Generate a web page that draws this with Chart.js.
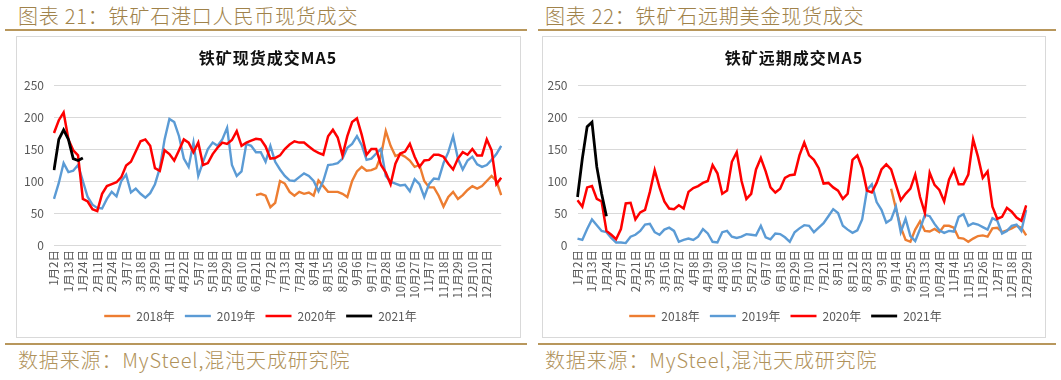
<!DOCTYPE html>
<html><head><meta charset="utf-8">
<script src="https://cdn.jsdelivr.net/npm/chart.js@4"></script>
<style>
body{margin:0;width:1061px;height:380px;background:#fff;position:relative;overflow:hidden;font-family:"Noto Sans CJK SC",sans-serif;}
.hdr{position:absolute;top:4px;font-size:20px;line-height:24px;font-weight:300;color:#a0824a;letter-spacing:0.8px;white-space:nowrap;}
.rule{position:absolute;height:0;border-top:2px solid #b8975c;}
.box{position:absolute;top:36px;height:302px;border:1px solid #d9d9d9;box-sizing:border-box;}
.cw{position:absolute;top:37px;height:299px;}
.ctitle{position:absolute;top:46px;font-size:16px;line-height:22px;font-weight:bold;color:#111;white-space:nowrap;transform:translateX(-50%);letter-spacing:1px;}
.src{position:absolute;top:347px;font-size:20px;line-height:26px;font-weight:300;color:#b0925a;letter-spacing:0.85px;white-space:nowrap;}
</style></head>
<body>
<div class="hdr" style="left:18px">图表 21：铁矿石港口人民币现货成交</div>
<div class="hdr" style="left:545px">图表 22：铁矿石远期美金现货成交</div>
<div class="rule" style="left:5px;width:522px;top:29px"></div>
<div class="rule" style="left:538px;width:518px;top:29px"></div>
<div class="box" style="left:16px;width:505px"></div>
<div class="box" style="left:542px;width:504px"></div>
<div class="cw" style="left:17px;width:503px"><canvas id="c1"></canvas></div>
<div class="cw" style="left:543px;width:502px"><canvas id="c2"></canvas></div>
<div class="ctitle" style="left:268px">铁矿现货成交MA5</div>
<div class="ctitle" style="left:794px">铁矿远期成交MA5</div>
<div class="rule" style="left:5px;width:522px;top:343px"></div>
<div class="rule" style="left:538px;width:518px;top:343px"></div>
<div class="src" style="left:18px">数据来源：MySteel,混沌天成研究院</div>
<div class="src" style="left:545px">数据来源：MySteel,混沌天成研究院</div>
<script>
// ---- Left chart: 铁矿现货成交MA5 ----
const L_TICKS = ['1月2日','1月13日','1月24日','2月11日','2月24日','3月7日','3月18日','3月29日','4月11日','4月22日','5月7日','5月18日','5月29日','6月10日','6月21日','7月2日','7月13日','7月24日','8月4日','8月15日','8月26日','9月6日','9月17日','9月28日','10月16日','10月27日','11月7日','11月18日','11月29日','12月10日','12月21日'];
const L_COUNT = 94;
const L_2020 = [175,195,207,165,148,140,72,68,56,53,
 80,92,95,98,106,124,130,146,162,165,
 155,120,116,148,142,132,148,165,160,145,
 160,125,128,142,152,160,158,164,178,155,
 160,163,166,165,154,135,136,140,150,157,
 162,160,160,154,148,144,141,170,180,168,
 140,170,192,198,172,141,150,150,125,113,
 95,127,143,146,158,138,122,132,133,141,
 141,138,127,118,135,145,141,150,140,140,
 165,148,95,105];
const L_2019 = [72,97,128,114,116,125,100,75,63,58,
 57,72,83,76,100,110,82,88,80,74,
 81,95,120,165,197,192,170,135,122,160,
 108,130,150,160,155,165,183,125,108,115,
 158,155,145,145,130,155,130,118,108,101,
 100,106,112,108,100,84,100,125,126,128,
 135,152,158,170,156,133,135,143,150,108,
 99,96,93,94,84,103,95,75,95,104,
 103,128,145,170,135,118,132,138,126,122,
 125,133,142,155];
const L_2018_START = 42;
const L_2018 = [78,80,77,59,66,100,96,83,77,83,
 80,82,77,101,92,83,83,83,80,75,
 100,115,122,116,117,120,140,178,155,139,
 142,138,132,122,125,100,90,90,77,60,
 75,83,72,78,86,92,88,92,100,108,
 100,78];
const L_2021 = [117,165,180,165,135,132,136];

// ---- Right chart: 铁矿远期成交MA5 ----
const R_TICKS = ['1月2日','1月13日','1月24日','2月7日','2月21日','3月5日','3月16日','3月27日','4月8日','4月19日','4月30日','5月16日','5月27日','6月7日','6月18日','6月29日','7月10日','7月21日','8月1日','8月12日','8月23日','9月3日','9月14日','9月25日','10月13日','10月24日','11月4日','11月15日','11月26日','12月7日','12月18日','12月29日'];
const R_COUNT = 94;
const R_2020 = [70,60,90,92,72,68,22,16,9,25,
 65,66,40,51,55,83,117,90,68,57,
 56,62,57,83,89,92,97,100,125,112,
 80,85,130,145,100,72,80,118,136,115,
 90,82,88,105,109,110,140,160,140,133,
 120,96,97,90,85,72,80,133,140,120,
 85,82,97,118,126,118,94,70,80,88,
 110,75,50,113,94,86,68,102,118,95,
 95,110,165,138,105,115,60,41,44,58,
 52,43,38,62];
const R_2019 = [10,8,25,40,31,22,20,11,4,4,
 3,13,16,22,32,33,20,16,24,27,
 22,5,8,10,8,13,25,18,5,4,
 20,22,13,11,13,17,16,15,30,12,
 9,18,17,12,5,20,26,31,30,20,
 27,34,45,56,50,30,24,19,23,40,
 86,95,67,55,35,40,60,20,41,14,
 6,25,47,45,33,23,19,22,21,44,
 48,30,34,32,28,24,42,38,18,22,
 30,32,22,55];
const R_2018_START = 65;
const R_2018 = [88,57,28,8,5,24,37,22,21,25,
 20,30,30,27,11,10,5,10,14,15,
 13,26,27,20,23,26,30,27,15];
const R_2021 = [75,135,185,192,122,80,45];

const Y_MIN = 0, Y_MAX = 250, Y_STEP = 50;
const PER_TICK = 3;

function cats(ticks, n){
  const out = [];
  for (let i = 0; i < n; i++) out.push(i % PER_TICK === 0 && ticks[i / PER_TICK] !== undefined ? ticks[i / PER_TICK] : '');
  return out;
}
function pad(start, arr){ return Array(start).fill(null).concat(arr); }

const FONT = '"Noto Sans CJK SC", sans-serif';
const GRID = '#d9d9d9';
const TXT = '#595959';

function makeChart(id, labels, d18, d19, d20, d21, yw, padRight){
  const ds = (label, data, color, w) => ({label, data, borderColor: color, backgroundColor: color, borderWidth: w, pointRadius: 0, pointHoverRadius: 0, tension: 0, fill: false});
  return new Chart(document.getElementById(id), {
    type: 'line',
    data: {
      labels,
      datasets: [
        ds('2021年', d21, '#000000', 2.8),
        ds('2020年', d20, '#ff0000', 2.5),
        ds('2019年', d19, '#5b9bd5', 2.4),
        ds('2018年', d18, '#ed7d31', 2.4)
      ]
    },
    options: {
      responsive: true, maintainAspectRatio: false, animation: false,
      layout: {padding: {left: 0, right: padRight, top: 48, bottom: 4}},
      plugins: {
        title: {display: false},
        tooltip: {enabled: false},
        legend: {
          position: 'bottom', reverse: true,
          labels: {usePointStyle: true, pointStyle: 'line', pointStyleWidth: 26, boxHeight: 12, color: TXT, font: {family: FONT, size: 12}, padding: 10}
        }
      },
      scales: {
        x: {
          type: 'category', offset: false,
          grid: {display: false, drawTicks: false},
          border: {display: false},
          ticks: {autoSkip: false, maxRotation: 90, minRotation: 90, padding: 5, color: TXT, font: {family: FONT, size: 11.5}},
          afterFit(s){ s.height = 55; }
        },
        y: {
          min: Y_MIN, max: Y_MAX,
          grid: {color: GRID, lineWidth: 1, drawTicks: false},
          border: {display: false},
          ticks: {stepSize: Y_STEP, padding: 10, color: TXT, font: {family: FONT, size: 12}},
          afterFit(s){ s.width = yw; }
        }
      }
    }
  });
}

makeChart('c1', cats(L_TICKS, L_COUNT), pad(L_2018_START, L_2018), L_2019, L_2020, L_2021, 37, 16);
makeChart('c2', cats(R_TICKS, R_COUNT), pad(R_2018_START, R_2018), R_2019, R_2020, R_2021, 34.5, 17);
</script>
</body></html>
